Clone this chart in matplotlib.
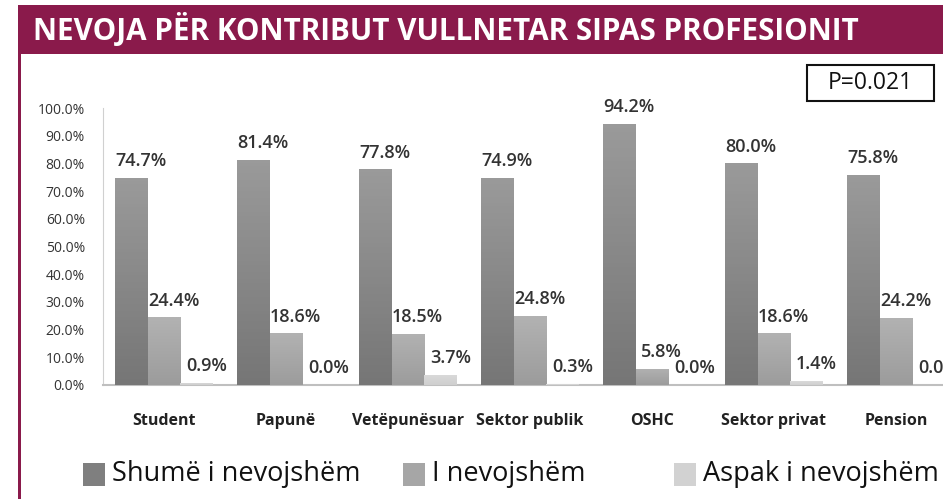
import matplotlib
matplotlib.use("Agg")
import matplotlib.pyplot as plt
import numpy as np
from matplotlib.colors import LinearSegmentedColormap
from matplotlib.patches import Rectangle

plt.rcParams['font.family'] = ['Open Sans', 'DejaVu Sans']

W, H = 943, 499

# data
categories = ['Student', 'Papunë', 'Vetëpunësuar', 'Sektor publik', 'OSHC', 'Sektor privat', 'Pension']
shume = [74.7, 81.4, 77.8, 74.9, 94.2, 80.0, 75.8]
nevojshem = [24.4, 18.6, 18.5, 24.8, 5.8, 18.6, 24.2]
aspak = [0.9, 0.0, 3.7, 0.3, 0.0, 1.4, 0.0]
series_names = ['Shumë i nevojshëm', 'I nevojshëm', 'Aspak i nevojshëm']
yticks = np.arange(0, 101, 10)

MAROON = '#8a1a4b'
legend_cols = ['#7f7f7f', '#a6a6a6', '#d2d2d2']
grad = [('#9a9a9a', '#767676'), ('#b2b2b2', '#9c9c9c'), ('#dadada', '#cfcfcf')]

fig = plt.figure(figsize=(W / 100, H / 100), dpi=100)

# title bar and left border
fig.patches.append(Rectangle((18 / W, 1 - 54 / H), 1, 49 / H, transform=fig.transFigure,
                             facecolor=MAROON, edgecolor='none', zorder=0))
fig.patches.append(Rectangle((18 / W, 0), 3 / W, 1 - 54 / H, transform=fig.transFigure,
                             facecolor=MAROON, edgecolor='none', zorder=0))
fig.text(33 / W, 1 - 30 / H, 'NEVOJA PËR KONTRIBUT VULLNETAR SIPAS PROFESIONIT',
         color='white', fontsize=21.3, fontweight='bold', va='center', ha='left')

# P value box
fig.patches.append(Rectangle((807 / W, 1 - 101 / H), 127 / W, 36 / H, transform=fig.transFigure,
                             facecolor='white', edgecolor='#111111', linewidth=1.5))
fig.text(870 / W, 1 - 83 / H, 'P=0.021', fontsize=16.5, ha='center', va='center', color='#111111')

# axes: left at 103px, bottom at 385px, 122px per category
ax = fig.add_axes([103 / W, 1 - 385 / H, 854 / W, 277 / H])
x = np.arange(len(categories))
bw = 0.27
offsets = [-bw, 0, bw]
all_series = [shume, nevojshem, aspak]

for i, vals in enumerate(all_series):
    bars = ax.bar(x + offsets[i], vals, width=bw, color=legend_cols[i], zorder=2)
    cmap = LinearSegmentedColormap.from_list('g%d' % i, [grad[i][1], grad[i][0]])
    for b, v in zip(bars, vals):
        x0 = b.get_x()
        if v > 0:
            img = ax.imshow(np.linspace(0, 1, 64).reshape(-1, 1), cmap=cmap, origin='lower',
                            extent=[x0, x0 + bw, 0, v], aspect='auto', zorder=3)
            img.set_clip_path(b)
        ax.annotate('%.1f%%' % v, (x0 + bw / 2, v), xytext=(7, 8.5), textcoords='offset points',
                    ha='center', va='baseline', fontsize=13, fontweight='semibold',
                    color='#333333', zorder=4, annotation_clip=False)

ax.set_xlim(-0.5, len(categories) - 0.5)
ax.set_ylim(0, 100)
ax.set_yticks(yticks)
ax.set_yticklabels(['%.1f%%' % t for t in yticks], fontsize=10, color='#333333')
ax.set_xticks(x)
ax.set_xticklabels(categories, fontsize=11.5, fontweight='bold', color='#222222')
ax.tick_params(axis='y', length=0, pad=13)
ax.tick_params(axis='x', length=0, pad=20)
for s in ['top', 'right']:
    ax.spines[s].set_visible(False)
ax.spines['left'].set_color('#d0d0d0')
ax.spines['bottom'].set_color('#bfbfbf')
ax.spines['bottom'].set_linewidth(1.5)

# legend
leg_x = [83, 403, 674]
for lx, name, c in zip(leg_x, series_names, legend_cols):
    fig.patches.append(Rectangle((lx / W, 1 - 486 / H), 22 / W, 23 / H, transform=fig.transFigure,
                                 facecolor=c, edgecolor='none'))
    fig.text((lx + 29) / W, 1 - 474 / H, name, fontsize=19.5, va='center', ha='left', color='#111111')

fig.savefig('out.png', dpi=100)
